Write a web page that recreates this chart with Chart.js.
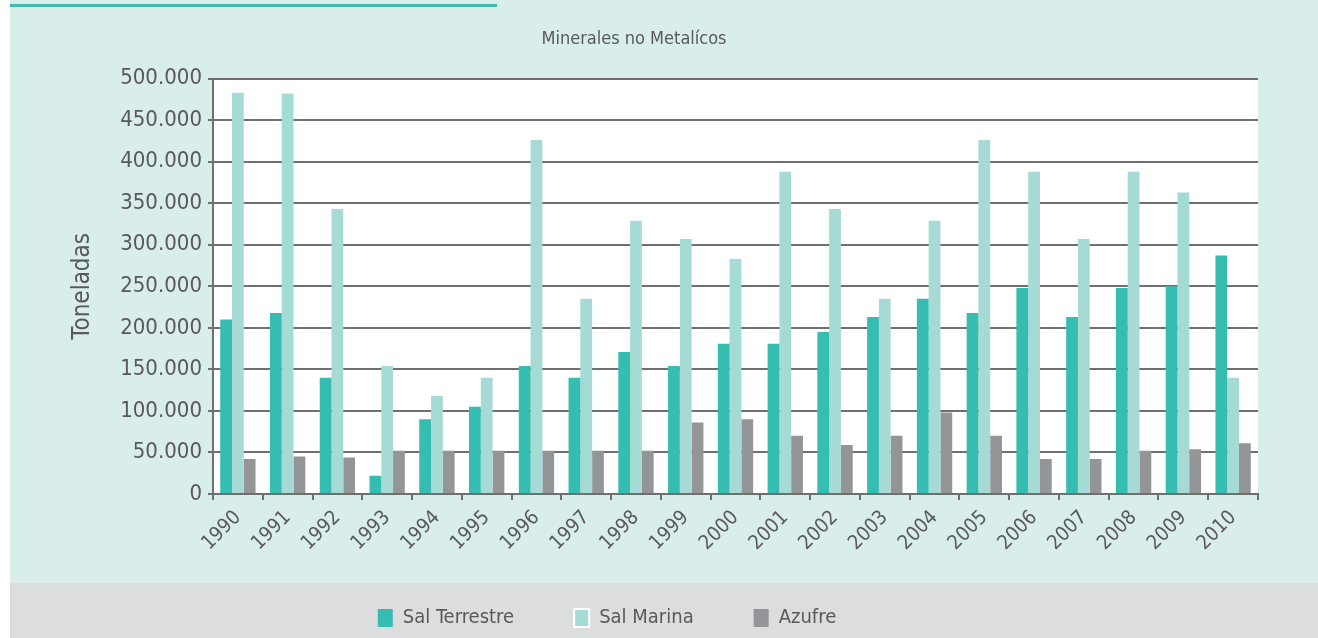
<!DOCTYPE html>
<html>
<head>
<meta charset="utf-8">
<script src="https://cdn.jsdelivr.net/npm/chart.js@4.4.0/dist/chart.umd.min.js"></script>
<style>
  html, body { margin: 0; padding: 0; background: #fff; }
  #wrap { position: relative; width: 1318px; height: 638px; }
</style>
</head>
<body>
<div id="wrap"><canvas id="chart"></canvas></div>
<script>
// datos (toneladas)
const years = ["1990","1991","1992","1993","1994","1995","1996","1997","1998","1999","2000",
               "2001","2002","2003","2004","2005","2006","2007","2008","2009","2010"];
const salTerrestre = [210000, 218000, 140000, 22000, 90000, 105000, 154000, 140000, 171000, 154000, 181000,
                      181000, 195000, 213000, 235000, 218000, 248000, 213000, 248000, 250000, 287000];
const salMarina = [483000, 482000, 343000, 154000, 118000, 140000, 426000, 235000, 329000, 307000, 283000,
                   388000, 343000, 235000, 329000, 426000, 388000, 307000, 388000, 363000, 140000];
const azufre = [42000, 45000, 44000, 52000, 52000, 52000, 52000, 52000, 52000, 86000, 90000,
                70000, 59000, 70000, 98000, 70000, 42000, 42000, 52000, 54000, 61000];
const yTicks = [0, 50000, 100000, 150000, 200000, 250000, 300000, 350000, 400000, 450000, 500000];

const textColor = "#59595b";
const gridColor = "#6f6f6f";

Chart.defaults.font.family = "'Liberation Sans Narrow', 'DejaVu Sans Condensed', sans-serif";
Chart.defaults.color = textColor;

function miles(v) {
    return String(v).replace(/\B(?=(\d{3})+(?!\d))/g, ".");
}

// fondo: franja blanca, panel verde claro, banda gris de la leyenda, area del grafico en blanco
const fondo = {
    id: "fondo",
    beforeDraw: function(c) {
        var ctx = c.ctx, a = c.chartArea;
        ctx.save();
        ctx.fillStyle = "#ffffff";
        ctx.fillRect(0, 0, c.width, c.height);
        ctx.fillStyle = "#d9eeeb";
        ctx.fillRect(10, 0, c.width - 10, 583);
        ctx.fillStyle = "#dcdddf";
        ctx.fillRect(10, 583, c.width - 10, c.height - 583);
        ctx.fillStyle = "#3dbdb2";
        ctx.fillRect(10, 4, 487, 3);
        ctx.fillStyle = "#ffffff";
        ctx.fillRect(a.left, a.top, a.right - a.left, a.bottom - a.top);
        ctx.restore();
    }
};

// ajustes tras el layout: la leyenda no esta centrada en la banda,
// y las etiquetas giradas del eje x necesitan mas alto para no recortarse
const ajustes = {
    id: "ajustes",
    afterLayout: function(c) {
        if (c.legend) {
            c.legend.left -= 27;
            c.legend.right -= 27;
        }
        c.scales.x.bottom = c.scales.x.top + 88;
    }
};

new Chart(document.getElementById("chart"), {
    type: "bar",
    data: {
        labels: years,
        datasets: [
            { label: "Sal Terrestre", data: salTerrestre, backgroundColor: "#36bdb1", borderWidth: 0 },
            { label: "Sal Marina", data: salMarina, backgroundColor: "#a6dbd5", borderWidth: 0 },
            { label: "Azufre", data: azufre, backgroundColor: "#949599", borderWidth: 0 }
        ]
    },
    options: {
        responsive: true,
        maintainAspectRatio: false,
        animation: false,
        layout: { padding: { left: 10, right: 60, top: 0, bottom: 0 } },
        datasets: { bar: { barPercentage: 1, categoryPercentage: 0.71 } },
        plugins: {
            tooltip: { enabled: false },
            title: {
                display: true,
                text: "Minerales no Metalícos",
                color: textColor,
                font: { size: 18, weight: "normal" },
                padding: { top: 29, bottom: 28 }
            },
            legend: {
                position: "bottom",
                labels: {
                    color: textColor,
                    font: { size: 20 },
                    boxWidth: 15,
                    boxHeight: 18,
                    padding: 60,
                    generateLabels: function(c) {
                        var items = Chart.defaults.plugins.legend.labels.generateLabels(c);
                        items.forEach(function(it) {
                            if (it.text === "Sal Marina") {
                                it.lineWidth = 2;
                                it.strokeStyle = "#ffffff";
                            }
                        });
                        return items;
                    }
                }
            }
        },
        scales: {
            x: {
                afterFit: function(axis) { axis.height = 54; },
                grid: {
                    display: true,
                    drawOnChartArea: false,
                    drawTicks: true,
                    tickLength: 6,
                    color: gridColor,
                    lineWidth: 2
                },
                border: { display: true, color: gridColor, width: 2 },
                ticks: {
                    color: textColor,
                    font: { size: 20 },
                    minRotation: 45,
                    maxRotation: 45,
                    autoSkip: false,
                    padding: 6
                }
            },
            y: {
                min: 0,
                max: 500000,
                afterFit: function(axis) { axis.width = 203; },
                afterBuildTicks: function(axis) {
                    axis.ticks = yTicks.map(function(v) { return { value: v }; });
                },
                grid: {
                    color: gridColor,
                    lineWidth: 2,
                    drawTicks: true,
                    tickLength: 5
                },
                border: { display: true, color: gridColor, width: 2 },
                ticks: {
                    color: textColor,
                    font: { size: 22 },
                    padding: 6,
                    callback: function(v) { return miles(v); }
                },
                title: {
                    display: true,
                    text: "Toneladas",
                    color: textColor,
                    font: { size: 24 },
                    padding: { top: 58, bottom: 0 }
                }
            }
        }
    },
    plugins: [fondo, ajustes]
});
</script>
</body>
</html>
